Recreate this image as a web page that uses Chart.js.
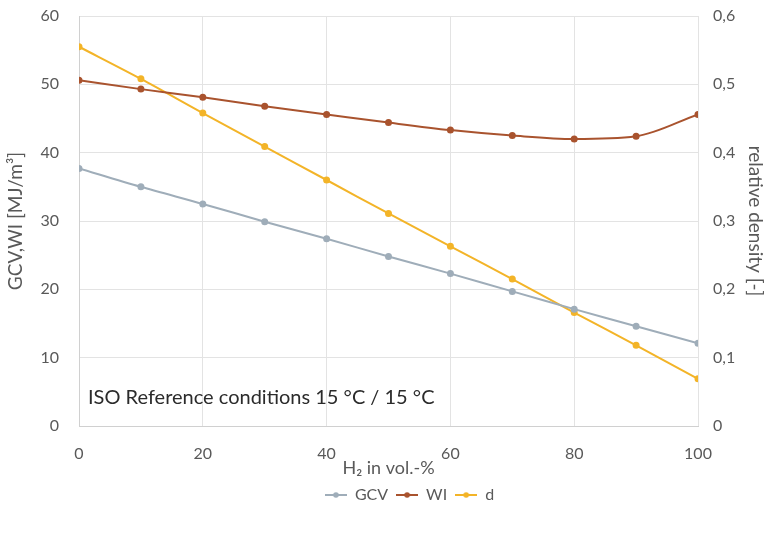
<!DOCTYPE html>
<html>
<head>
<meta charset="utf-8">
<script src="https://cdn.jsdelivr.net/npm/chart.js@4/dist/chart.umd.min.js"></script>
<style>
    html, body { margin: 0; padding: 0; background: #fff; }
    #wrap { width: 771px; height: 540px; }
</style>
</head>
<body>
<div id="wrap"><canvas id="h2_chart"></canvas></div>
<script>
// H2 share in vol.-%
const h2Share = [0, 10, 20, 30, 40, 50, 60, 70, 80, 90, 100];

const gcvValues = [37.7, 35.0, 32.5, 29.9, 27.4, 24.8, 22.3, 19.7, 17.1, 14.6, 12.1];
const wiValues = [50.6, 49.3, 48.1, 46.8, 45.6, 44.4, 43.3, 42.5, 42.0, 42.4, 45.6];
const densityValues = [0.555, 0.508, 0.458, 0.409, 0.360, 0.311, 0.263, 0.215, 0.166, 0.118, 0.069];

const noteText = "ISO Reference conditions 15 °C / 15 °C";

const FONT = "Lato, 'Open Sans', sans-serif";
const TICK_COLOR = "#595959";

// pair x with y for the linear x axis
const toPoints = (values) => h2Share.map((x, i) => ({ x: x, y: values[i] }));

// fix axis box sizes so the plot lands where the original has it
function fixSize(size) {
    return function (scale) {
        if (scale.isHorizontal()) {
            scale.height = size;
            scale.paddingLeft = 0;
            scale.paddingRight = 0;
        } else {
            scale.width = size;
            scale.paddingTop = 0;
            scale.paddingBottom = 0;
        }
    };
}

// legend marker like excel: short line with a dot in the middle
function lineDotMarker(color) {
    const c = document.createElement("canvas");
    c.width = 22;
    c.height = 8;
    const ctx = c.getContext("2d");
    ctx.strokeStyle = color;
    ctx.fillStyle = color;
    ctx.lineWidth = 2;
    ctx.beginPath();
    ctx.moveTo(0, 4);
    ctx.lineTo(22, 4);
    ctx.stroke();
    ctx.beginPath();
    ctx.arc(11, 4, 2.8, 0, Math.PI * 2);
    ctx.fill();
    return c;
}

// small label in the lower left of the plot
const notePlugin = {
    id: "note",
    afterLayout(chart) {
        // legend sits a little right of centre in the original
        chart.legend.left += 24;
        chart.legend.right += 24;
    },
    afterDraw(chart) {
        const { ctx, chartArea } = chart;
        ctx.save();
        ctx.font = "20px " + FONT;
        ctx.fillStyle = "#2b2b2b";
        ctx.textBaseline = "middle";
        ctx.fillText(noteText, chartArea.left + 9, chartArea.bottom - 28);
        ctx.restore();
    },
};

Chart.defaults.font.family = FONT;
Chart.defaults.color = TICK_COLOR;

const colors = ["#9fadb9", "#a9532e", "#f3b428"];

new Chart(document.getElementById("h2_chart"), {
    type: "line",
    data: {
        datasets: [
            {
                label: "GCV",
                data: toPoints(gcvValues),
                yAxisID: "y",
                borderColor: colors[0],
                backgroundColor: colors[0],
                borderWidth: 2,
                pointRadius: 2.5,
                tension: 0.3,
            },
            {
                label: "WI",
                data: toPoints(wiValues),
                yAxisID: "y",
                borderColor: colors[1],
                backgroundColor: colors[1],
                borderWidth: 2,
                pointRadius: 2.5,
                cubicInterpolationMode: "monotone",
            },
            {
                label: "d",
                data: toPoints(densityValues),
                yAxisID: "y1",
                borderColor: colors[2],
                backgroundColor: colors[2],
                borderWidth: 2,
                pointRadius: 2.5,
                tension: 0.3,
            },
        ],
    },
    options: {
        responsive: true,
        maintainAspectRatio: false,
        animation: false,
        layout: { padding: { left: 4, right: 4, top: 16, bottom: 27 } },
        plugins: {
            legend: {
                position: "bottom",
                labels: {
                    font: { size: 16 },
                    color: TICK_COLOR,
                    usePointStyle: true,
                    pointStyleWidth: 22,
                    padding: 8,
                    generateLabels(chart) {
                        const items = Chart.defaults.plugins.legend.labels.generateLabels(chart);
                        items.forEach((item, i) => {
                            item.pointStyle = lineDotMarker(colors[i]);
                        });
                        return items;
                    },
                },
            },
            tooltip: { enabled: false },
        },
        scales: {
            x: {
                type: "linear",
                min: 0,
                max: 100,
                ticks: { stepSize: 20, font: { size: 16 }, padding: 18 },
                grid: { color: "#e3e3e3", drawTicks: false },
                border: { color: "#d0d0d0" },
                title: {
                    display: true,
                    text: "H₂ in vol.-%",
                    font: { size: 18 },
                    padding: { top: 0, bottom: 0 },
                },
                afterFit: fixSize(53),
            },
            y: {
                position: "left",
                min: 0,
                max: 60,
                ticks: { stepSize: 10, font: { size: 16 }, padding: 20 },
                grid: { color: "#e3e3e3", drawTicks: false },
                border: { color: "#d0d0d0" },
                title: {
                    display: true,
                    text: "GCV,WI [MJ/m³]",
                    font: { size: 19 },
                    padding: { top: 0, bottom: 4 },
                },
                afterFit: fixSize(75),
            },
            y1: {
                position: "right",
                min: 0,
                max: 0.6,
                ticks: {
                    stepSize: 0.1,
                    font: { size: 16 },
                    padding: 15,
                    callback: (v) => (Math.round(v * 10) / 10).toString().replace(".", ","),
                },
                grid: { drawOnChartArea: false, drawTicks: false },
                border: { display: false },
                title: {
                    display: true,
                    text: "relative density [-]",
                    font: { size: 19 },
                    padding: { top: 0, bottom: 4 },
                },
                afterFit: fixSize(69),
            },
        },
    },
    plugins: [notePlugin],
});
</script>
</body>
</html>
